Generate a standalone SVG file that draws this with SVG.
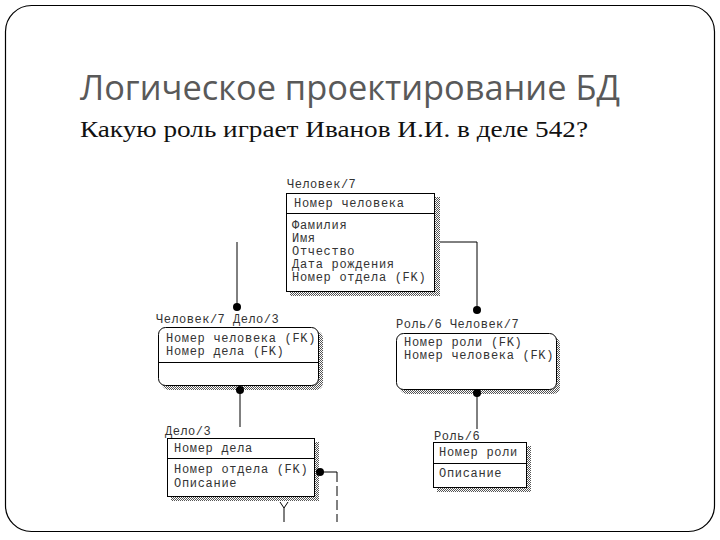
<svg xmlns="http://www.w3.org/2000/svg" width="720" height="540" viewBox="0 0 720 540">
<defs>
<pattern id="dots" width="2" height="2" patternUnits="userSpaceOnUse">
<rect width="2" height="2" fill="#ffffff"/>
<rect width="1" height="1" fill="#555"/>
<rect x="1" y="1" width="1" height="1" fill="#555"/>
</pattern>
<style>
.ent{fill:#fff;stroke:#000;stroke-width:1}
.sh{fill:url(#dots)}
.sep{stroke:#000;stroke-width:1}
.t{font-family:"Liberation Mono","DejaVu Sans Mono",monospace;font-size:12px;letter-spacing:0.7px;fill:#333}
.lbl{font-family:"Liberation Mono","DejaVu Sans Mono",monospace;font-size:12px;letter-spacing:0.5px;fill:#333}
.ln{stroke:#000;stroke-width:1;fill:none}
.dot{fill:#000}
</style>
</defs>
<rect x="5.5" y="5.5" width="709" height="526" rx="26" ry="26" fill="#fff" stroke="#000" stroke-width="1.2"/>
<text x="80" y="100" font-family="'Open Sans','Noto Sans',sans-serif" font-weight="400" font-size="35" fill="#595959" textLength="540" lengthAdjust="spacingAndGlyphs">Логическое проектирование БД</text>
<text x="80" y="137" font-family="'Liberation Serif','DejaVu Serif',serif" font-size="24" fill="#111" textLength="508" lengthAdjust="spacingAndGlyphs">Какую роль играет Иванов И.И. в деле 542?</text>

<g id="chelovek">
<text class="lbl" x="287" y="188">Человек/7</text>
<rect class="sh" x="290" y="197" width="150" height="99"/>
<rect class="ent" x="286.5" y="193.5" width="148" height="98"/>
<line class="sep" x1="286.5" y1="213.5" x2="434.5" y2="213.5"/>
<text class="t" x="294" y="207">Номер человека</text>
<text class="t" x="292" y="229">Фамилия</text>
<text class="t" x="292" y="242">Имя</text>
<text class="t" x="292" y="255">Отчество</text>
<text class="t" x="292" y="268">Дата рождения</text>
<text class="t" x="292" y="281">Номер отдела (FK)</text>
</g>

<g id="chelovek-delo">
<text class="lbl" x="156" y="323">Человек/7 Дело/3</text>
<rect class="sh" x="162" y="331" width="161" height="59" rx="7" ry="7"/>
<rect class="ent" x="158.5" y="327.5" width="160" height="58" rx="7" ry="7"/>
<line class="sep" x1="158.5" y1="362.5" x2="318.5" y2="362.5"/>
<text class="t" x="166" y="342">Номер человека (FK)</text>
<text class="t" x="166" y="355">Номер дела (FK)</text>
</g>

<g id="rol-chelovek">
<text class="lbl" x="396" y="328">Роль/6 Человек/7</text>
<rect class="sh" x="400" y="337" width="160" height="57" rx="7" ry="7"/>
<rect class="ent" x="396.5" y="333.5" width="160" height="56" rx="7" ry="7"/>
<text class="t" x="404" y="346">Номер роли (FK)</text>
<text class="t" x="404" y="359">Номер человека (FK)</text>
</g>

<g id="delo">
<text class="lbl" x="165" y="435">Дело/3</text>
<rect class="sh" x="171" y="442" width="148" height="59"/>
<rect class="ent" x="167.5" y="438.5" width="147" height="58"/>
<line class="sep" x1="167.5" y1="458.5" x2="314.5" y2="458.5"/>
<text class="t" x="174" y="452">Номер дела</text>
<text class="t" x="174" y="473">Номер отдела (FK)</text>
<text class="t" x="174" y="487">Описание</text>
</g>

<g id="rol">
<text class="lbl" x="434" y="440">Роль/6</text>
<rect class="sh" x="437" y="446" width="94" height="46"/>
<rect class="ent" x="433.5" y="442.5" width="93" height="45"/>
<line class="sep" x1="433.5" y1="463.5" x2="526.5" y2="463.5"/>
<text class="t" x="439" y="456">Номер роли</text>
<text class="t" x="439" y="477">Описание</text>
</g>

<g id="connectors">
<line class="ln" x1="237" y1="242" x2="237" y2="307"/>
<circle class="dot" cx="237" cy="307" r="4"/>
<polyline class="ln" points="440,242 477,242 477,310"/>
<circle class="dot" cx="477" cy="310" r="4"/>
<line class="ln" x1="240" y1="390" x2="240" y2="427"/>
<circle class="dot" cx="240" cy="390" r="4"/>
<line class="ln" x1="477" y1="393" x2="477" y2="429"/>
<circle class="dot" cx="477" cy="393" r="4"/>
<line class="ln" x1="320" y1="472" x2="337" y2="472"/>
<circle class="dot" cx="320" cy="472" r="4"/>
<line class="ln" x1="337" y1="472" x2="337" y2="522" stroke-dasharray="10,4"/>
<polyline class="ln" points="280,502 284,508 288,502"/>
<line class="ln" x1="284" y1="508" x2="284" y2="522"/>
</g>
</svg>
